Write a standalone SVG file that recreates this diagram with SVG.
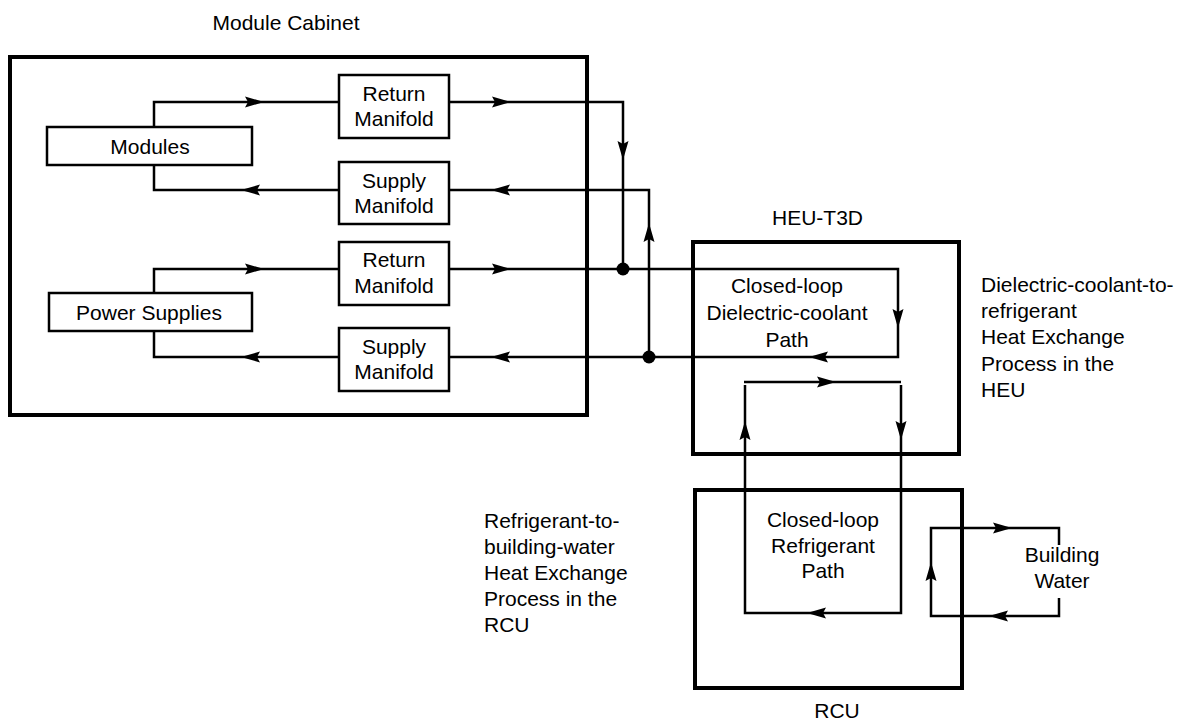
<svg xmlns="http://www.w3.org/2000/svg" xmlns:xlink="http://www.w3.org/1999/xlink" width="1183" height="723" viewBox="0 0 1183 723">
<style>
text{font-family:"Liberation Sans",Arial,sans-serif;font-size:21px;fill:#000}
.c{text-anchor:middle}
.outer{fill:none;stroke:#000;stroke-width:4}
.box{fill:#fff;stroke:#000;stroke-width:2.5}
.ln{fill:none;stroke:#000;stroke-width:2.5}
</style>
<defs>
<path id="ah" d="M1,0 L-18,-5.5 L-15,0 L-18,5.5 Z" fill="#000"/>
</defs>
<rect width="1183" height="723" fill="#fff"/>

<g id="cabinet">
<rect class="outer" x="10" y="57" width="577" height="358"/>
<text x="286" y="30" class="c">Module Cabinet</text>
</g>
<g id="heu">
<rect class="outer" x="693" y="242" width="266" height="212"/>
<text x="817.5" y="225" class="c">HEU-T3D</text>
</g>
<g id="rcu">
<rect class="outer" x="695" y="490" width="267" height="198"/>
<text x="837" y="718" class="c">RCU</text>
</g>

<g id="connectors">
<path class="ln" d="M154,127 V102 H339"/>
<path class="ln" d="M339,190 H154 V165"/>
<path class="ln" d="M449,102 H623 V269"/>
<path class="ln" d="M649,357 V190 H449"/>
<path class="ln" d="M154,293 V269 H339"/>
<path class="ln" d="M339,357 H154 V331"/>
<path class="ln" d="M449,269 H898 V357 H449"/>
<circle cx="623" cy="269" r="6.5"/>
<circle cx="649" cy="357" r="6.5"/>
<path class="ln" d="M744,382 H901"/>
<path class="ln" d="M745,385 V613 H901 V385"/>
<path class="ln" d="M1059,545 V528 H931 V616 H1059 V598"/>
<use xlink:href="#ah" transform="translate(263,102)"/>
<use xlink:href="#ah" transform="translate(242,190) rotate(180)"/>
<use xlink:href="#ah" transform="translate(510,102)"/>
<use xlink:href="#ah" transform="translate(492,190) rotate(180)"/>
<use xlink:href="#ah" transform="translate(623,159) rotate(90)"/>
<use xlink:href="#ah" transform="translate(649,224) rotate(-90)"/>
<use xlink:href="#ah" transform="translate(263,269)"/>
<use xlink:href="#ah" transform="translate(242,357) rotate(180)"/>
<use xlink:href="#ah" transform="translate(510,269)"/>
<use xlink:href="#ah" transform="translate(492,357) rotate(180)"/>
<use xlink:href="#ah" transform="translate(898,327) rotate(90)"/>
<use xlink:href="#ah" transform="translate(810,357) rotate(180)"/>
<use xlink:href="#ah" transform="translate(835,382)"/>
<use xlink:href="#ah" transform="translate(745,422) rotate(-90)"/>
<use xlink:href="#ah" transform="translate(901,439) rotate(90)"/>
<use xlink:href="#ah" transform="translate(808,613) rotate(180)"/>
<use xlink:href="#ah" transform="translate(1011,528)"/>
<use xlink:href="#ah" transform="translate(990,616) rotate(180)"/>
<use xlink:href="#ah" transform="translate(931,563) rotate(-90)"/>
</g>

<g id="modules">
<rect class="box" x="47" y="127" width="205" height="38"/>
<text x="150" y="153.5" class="c">Modules</text>
</g>
<g id="power-supplies">
<rect class="box" x="49" y="293" width="203" height="38"/>
<text x="149" y="319.5" class="c">Power Supplies</text>
</g>
<g id="return-manifold-1">
<rect class="box" x="339" y="75" width="110" height="63"/>
<text x="394" y="100.5" class="c">Return</text>
<text x="394" y="126" class="c">Manifold</text>
</g>
<g id="supply-manifold-1">
<rect class="box" x="339" y="162" width="110" height="62"/>
<text x="394" y="187.5" class="c">Supply</text>
<text x="394" y="212.5" class="c">Manifold</text>
</g>
<g id="return-manifold-2">
<rect class="box" x="339" y="242" width="110" height="63"/>
<text x="394" y="266.5" class="c">Return</text>
<text x="394" y="292.5" class="c">Manifold</text>
</g>
<g id="supply-manifold-2">
<rect class="box" x="339" y="328" width="110" height="63"/>
<text x="394" y="354" class="c">Supply</text>
<text x="394" y="378.5" class="c">Manifold</text>
</g>
<g id="dielectric-path">
<text x="787" y="293.3" class="c">Closed-loop</text>
<text x="787" y="319.5" class="c">Dielectric-coolant</text>
<text x="787" y="346.5" class="c">Path</text>
</g>
<g id="refrigerant-path">
<text x="823" y="527.3" class="c">Closed-loop</text>
<text x="823" y="553" class="c">Refrigerant</text>
<text x="823" y="578.3" class="c">Path</text>
</g>
<g id="building-water">
<text x="1062" y="561.7" class="c">Building</text>
<text x="1062" y="588.3" class="c">Water</text>
</g>
<g id="heu-note">
<text x="981" y="291.7">Dielectric-coolant-to-</text>
<text x="981" y="318">refrigerant</text>
<text x="981" y="344.3">Heat Exchange</text>
<text x="981" y="370.6">Process in the</text>
<text x="981" y="396.9">HEU</text>
</g>
<g id="rcu-note">
<text x="484" y="528.3">Refrigerant-to-</text>
<text x="484" y="554.3">building-water</text>
<text x="484" y="580.3">Heat Exchange</text>
<text x="484" y="606.3">Process in the</text>
<text x="484" y="632.3">RCU</text>
</g>
</svg>
